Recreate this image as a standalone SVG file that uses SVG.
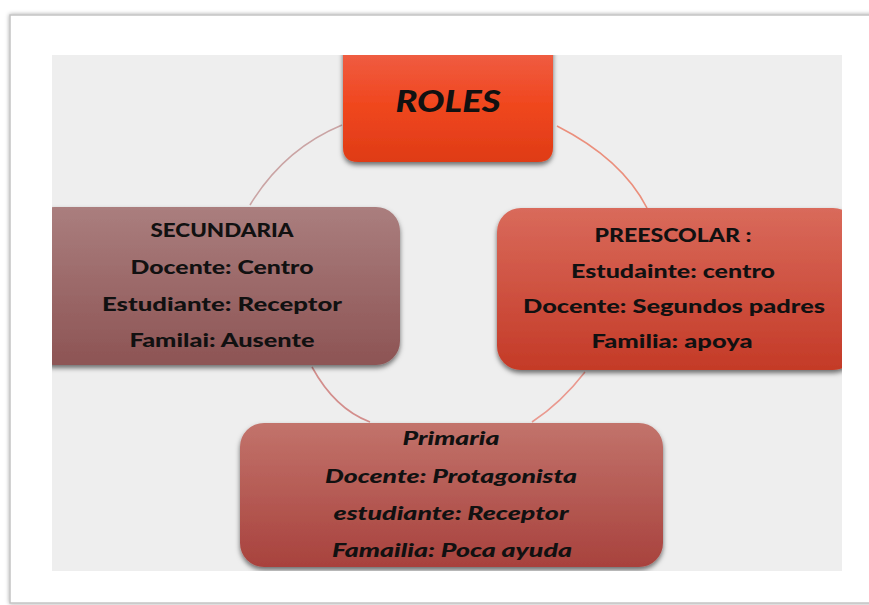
<svg xmlns="http://www.w3.org/2000/svg" width="869" height="605" viewBox="0 0 869 605">
<style>
.t{font-family:"Lato","Liberation Sans",sans-serif;font-weight:900;font-size:19px;fill:#111;text-anchor:middle}
.i{font-style:italic}
.arc{fill:none;stroke-width:1.6}
</style>
<defs>
<filter id="sh" x="-10%" y="-10%" width="120%" height="130%">
<feDropShadow dx="0" dy="3" stdDeviation="2.5" flood-color="#000" flood-opacity="0.55"/>
</filter>
<filter id="fs" x="-5%" y="-5%" width="110%" height="110%">
<feDropShadow dx="0" dy="0" stdDeviation="2" flood-color="#000" flood-opacity="0.35"/>
</filter>
<clipPath id="panel"><rect x="52" y="55" width="790" height="516"/></clipPath>
<linearGradient id="gR" x1="0" y1="0" x2="0" y2="1"><stop offset="0" stop-color="#ef6048"/><stop offset="0.5" stop-color="#f0471f"/><stop offset="1" stop-color="#df3b16"/></linearGradient>
<linearGradient id="gS" x1="0" y1="0" x2="0" y2="1"><stop offset="0" stop-color="#aa7e7e"/><stop offset="1" stop-color="#8d5454"/></linearGradient>
<linearGradient id="gP" x1="0" y1="0" x2="0" y2="1"><stop offset="0" stop-color="#d96a5b"/><stop offset="1" stop-color="#c43a27"/></linearGradient>
<linearGradient id="gM" x1="0" y1="0" x2="0" y2="1"><stop offset="0" stop-color="#c2736b"/><stop offset="1" stop-color="#a8423d"/></linearGradient>
</defs>
<rect x="0" y="0" width="869" height="605" fill="#ffffff"/>
<rect x="10" y="15" width="880" height="588" fill="#ffffff" stroke="#c4c4c4" stroke-width="1.5" filter="url(#fs)"/>
<rect x="52" y="55" width="790" height="516" fill="#eeeeee"/>
<g id="connectors">
<path class="arc" stroke="#caa4a4" d="M342,125 Q284,149 250,205"/>
<path class="arc" stroke="#eb8f7c" d="M557,126 Q622,159 647,208"/>
<path class="arc" stroke="#d38e8c" d="M312,367 Q335,409 370,422"/>
<path class="arc" stroke="#ea998f" d="M585,372 Q561,403 532,422"/>
</g>
<g id="roles" clip-path="url(#panel)">
<path d="M349,45 H547 Q553,45 553,51 V147 Q553,162 538,162 H358 Q343,162 343,147 V51 Q343,45 349,45 Z" fill="url(#gR)" filter="url(#sh)"/>
<text class="t i" x="448" y="112" style="font-size:30px" textLength="105" lengthAdjust="spacingAndGlyphs">ROLES</text>
</g>
<g id="secundaria" clip-path="url(#panel)">
<rect x="30" y="207" width="370" height="158" rx="24" fill="url(#gS)" filter="url(#sh)"/>
<text class="t" x="222" y="237" textLength="143" lengthAdjust="spacingAndGlyphs">SECUNDARIA</text>
<text class="t" x="222" y="274" textLength="183" lengthAdjust="spacingAndGlyphs">Docente: Centro</text>
<text class="t" x="222" y="311" textLength="240" lengthAdjust="spacingAndGlyphs">Estudiante: Receptor</text>
<text class="t" x="222" y="347" textLength="185" lengthAdjust="spacingAndGlyphs">Familai:  Ausente</text>
</g>
<g id="preescolar" clip-path="url(#panel)">
<rect x="497" y="208" width="360" height="162" rx="24" fill="url(#gP)" filter="url(#sh)"/>
<text class="t" x="673" y="242" textLength="157" lengthAdjust="spacingAndGlyphs">PREESCOLAR :</text>
<text class="t" x="673" y="278" textLength="204" lengthAdjust="spacingAndGlyphs">Estudainte: centro</text>
<text class="t" x="674" y="313" textLength="302" lengthAdjust="spacingAndGlyphs">Docente: Segundos  padres</text>
<text class="t" x="672" y="348" textLength="161" lengthAdjust="spacingAndGlyphs">Familia:  apoya</text>
</g>
<g id="primaria" clip-path="url(#panel)">
<rect x="240" y="423" width="423" height="144" rx="24" fill="url(#gM)" filter="url(#sh)"/>
<text class="t i" x="451" y="445" textLength="97" lengthAdjust="spacingAndGlyphs">Primaria</text>
<text class="t i" x="451" y="483" textLength="252" lengthAdjust="spacingAndGlyphs">Docente: Protagonista</text>
<text class="t i" x="451" y="520" textLength="235" lengthAdjust="spacingAndGlyphs">estudiante: Receptor</text>
<text class="t i" x="452" y="557" textLength="240" lengthAdjust="spacingAndGlyphs">Famailia: Poca ayuda</text>
</g>
</svg>
